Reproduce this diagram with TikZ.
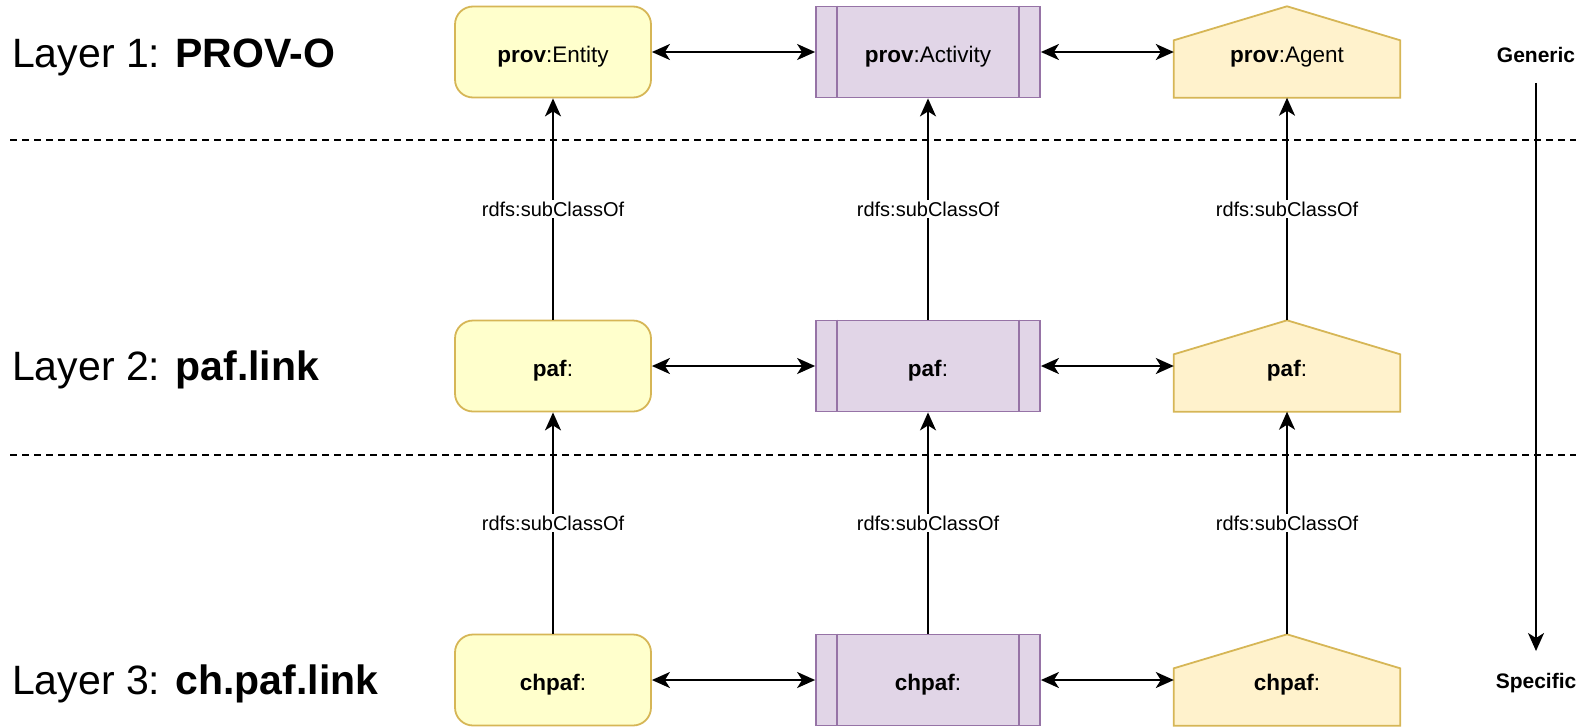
\documentclass[tikz,border=0pt]{standalone}
\usepackage{fontspec}
\setmainfont{Liberation Sans}
\usetikzlibrary{arrows.meta,backgrounds,calc}
\definecolor{entfill}{HTML}{FFFFCC}
\definecolor{entstroke}{HTML}{D6B656}
\definecolor{actfill}{HTML}{E1D5E7}
\definecolor{actstroke}{HTML}{9673A6}
\definecolor{agfill}{HTML}{FFF2CC}
\definecolor{agstroke}{HTML}{D6B656}
\newcommand{\boxfont}{\fontsize{22.5}{26}\selectfont}
\newcommand{\actlines}[1]{%
  \draw[draw=actstroke,line width=1.8pt] ($(#1.north west)+(22,0)$) -- ($(#1.south west)+(22,0)$);
  \draw[draw=actstroke,line width=1.8pt] ($(#1.north east)+(-22,0)$) -- ($(#1.south east)+(-22,0)$);}
\newcommand{\agentshape}[1]{%
  \begin{scope}[on background layer]
  \path[draw=agstroke,fill=agfill,line width=1.8pt,line join=miter]
    (#1.south west) -- (#1.south east) -- ($(#1.north east)+(0,34)$) -- (#1.north)
    -- ($(#1.north west)+(0,34)$) -- cycle;
  \end{scope}}
\begin{document}
\begin{tikzpicture}[x=1pt,y=-1pt,
  boxtext/.style={inner sep=0pt,font=\boxfont,text height=22pt,text depth=2pt},
  entity/.style={boxtext,draw=entstroke,fill=entfill,line width=1.8pt,rounded corners=18pt,
    minimum width=196pt,minimum height=91pt},
  activity/.style={boxtext,draw=actstroke,fill=actfill,line width=1.8pt,
    minimum width=224pt,minimum height=91pt},
  agent/.style={boxtext,minimum width=226pt,minimum height=91pt},
  tip/.tip={Stealth[length=18pt,width=16pt,inset=5pt]},
  conn/.style={line width=2pt,-tip},
  biconn/.style={line width=2pt,tip-tip},
  lbl/.style={fill=white,inner sep=2pt,font=\fontsize{20}{24}\selectfont},
  layer/.style={anchor=west,inner sep=0pt,font=\fontsize{41}{48}\selectfont},
  side/.style={inner sep=0pt,font=\fontsize{21}{25}\selectfont\bfseries},
  sep/.style={line width=1.6pt,dash pattern=on 7pt off 5pt}]
\useasboundingbox (0,0) rectangle (1594,726);

% layer labels
\node[layer] (l1) at (12,57) {Layer 1: \textbf{PROV-O}};
\node[layer] (l2) at (12,370) {Layer 2: \textbf{paf.link}};
\node[layer] (l3) at (12,684) {Layer 3: \textbf{ch.paf.link}};

% separators
\coordinate (d1l) at (10,140); \coordinate (d1r) at (1576,140);
\coordinate (d2l) at (10,455); \coordinate (d2r) at (1576,455);
\draw[sep] (d1l) -- (d1r);
\draw[sep] (d2l) -- (d2r);

% row 1
\node[entity] (e1) at (553,52) {\textbf{prov}:Entity};
\node[activity] (a1) at (928,52) {\textbf{prov}:Activity};
\node[agent] (g1) at (1287,52) {\textbf{prov}:Agent};
% row 2
\node[entity] (e2) at (553,366) {\textbf{paf}:};
\node[activity] (a2) at (928,366) {\textbf{paf}:};
\node[agent] (g2) at (1287,366) {\textbf{paf}:};
% row 3
\node[entity] (e3) at (553,680) {\textbf{chpaf}:};
\node[activity] (a3) at (928,680) {\textbf{chpaf}:};
\node[agent] (g3) at (1287,680) {\textbf{chpaf}:};

\actlines{a1}\actlines{a2}\actlines{a3}
\agentshape{g1}\agentshape{g2}\agentshape{g3}

% horizontal links
\foreach \r in {1,2,3}{
  \draw[biconn] (e\r) -- (a\r);
  \draw[biconn] (a\r) -- (g\r);
}
% subclass links
\foreach \c in {e,a,g}{
  \draw[conn] (\c2) -- node[lbl]{rdfs:subClassOf} (\c1);
  \draw[conn] (\c3) -- node[lbl]{rdfs:subClassOf} (\c2);
}

% generic -> specific
\node[side] (gen) at (1536,55) {Generic};
\node[side] (spec) at (1536,683) {Specific};
\draw[conn,shorten <=20pt,shorten >=22pt] (gen) -- (spec);
\end{tikzpicture}
\end{document}
